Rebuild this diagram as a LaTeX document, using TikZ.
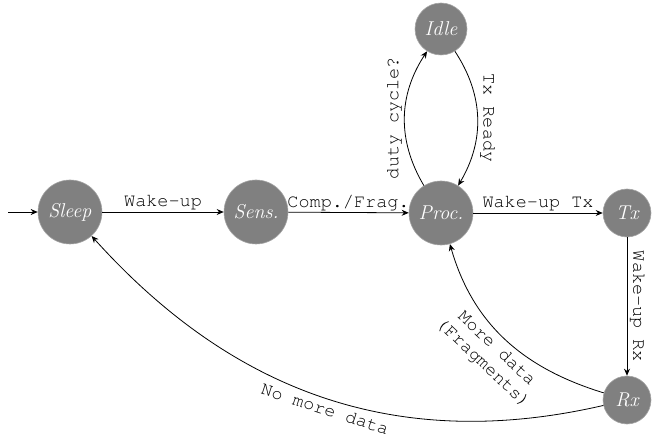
\documentclass[tikz,border=0pt]{standalone}
\usepackage{fontspec}
\usetikzlibrary{arrows.meta}
\newcommand\lblfont{\fontencoding{T1}\fontfamily{pcr}\fontseries{m}\fontshape{n}\selectfont}
\begin{document}
\begin{tikzpicture}[x=1pt,y=-1pt,
  state/.style={circle,fill=gray,draw=gray!70,line width=0.6pt,text=white,inner sep=0pt,font=\fontsize{20}{23}\selectfont\itshape},
  big/.style={state,minimum size=64pt},
  small/.style={state,minimum size=48pt},
  mid/.style={state,minimum size=52pt},
  lbl/.style={font=\fontsize{18.5}{20}\lblfont},
  edge/.style={draw,line width=0.8pt,-{Stealth[length=7pt,width=6pt]}}]
\useasboundingbox (0,0) rectangle (662,441);
\node[big] (sleep) at (70,212) {Sleep};
\node[big] (sens) at (256,212) {Sens.};
\node[big] (proc) at (441,213) {Proc.};
\node[mid] (idle) at (441,29) {Idle};
\node[small] (tx) at (627,213) {Tx};
\node[small] (rx) at (627,400) {Rx};
\coordinate (start) at (8,212);
\path[edge] (start) -- (sleep);
\path[edge] (sleep) -- node[lbl,above,inner sep=2pt] {Wake-up} (sens);
\path[edge] (sens) -- node[lbl,above,inner sep=2pt] {Comp./Frag.} (proc);
\path[edge] (proc) -- node[lbl,above,inner sep=2pt] {Wake-up Tx} (tx);
\path[edge] (proc) to[bend left=32] node[lbl,rotate=90,above,inner sep=3pt,pos=0.5] {duty cycle?} (idle);
\path[edge] (idle) to[bend left=32] node[lbl,rotate=-90,above,inner sep=3pt,pos=0.5] {Tx Ready} (proc);
\path[edge] (tx) -- node[lbl,rotate=-90,above,inner sep=3pt] {Wake-up Rx} (rx);
\path[edge] (rx) to[out=163,in=-74] node[lbl,sloped,below,align=center,inner sep=5pt,pos=0.5] {More data\\(Fragments)} (proc);
\path[edge] (rx) to[out=193,in=-48] node[lbl,sloped,below,inner sep=4pt,pos=0.49] {No more data} (sleep);
\end{tikzpicture}
\end{document}
